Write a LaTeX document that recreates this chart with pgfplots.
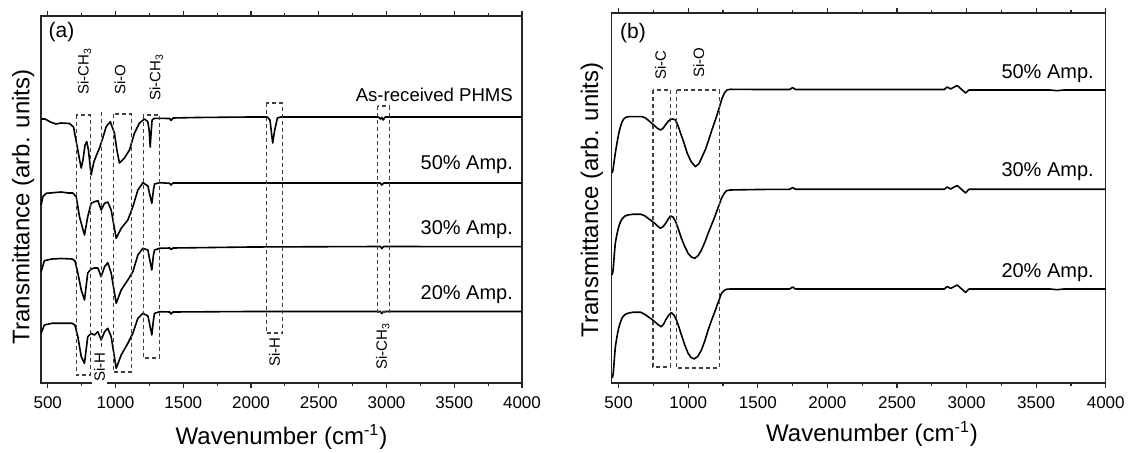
\documentclass[border=0pt]{standalone}
\usepackage{fontspec}
\setmainfont{Liberation Sans}
\usepackage{pgfplots}
\pgfplotsset{compat=1.18}

\tikzset{box/.style={dash pattern=on 2pt off 1.5pt, line width=0.55pt, black!75}}
\pgfplotsset{ftir/.style={
  scale only axis, xmin=450, xmax=4000, ymin=17,
  ytick=\empty, xtick={500,1000,...,4000}, minor x tick num=1,
  tick align=outside, major tick length=2.5pt, minor tick length=1.5pt,
  axis line style={black!85, line width=0.7pt},
  every tick/.style={black!85, line width=0.6pt},
  tick label style={font=\fontsize{8.5}{10}\selectfont},
  xticklabel style={yshift=-1pt},
  /pgf/number format/assume math mode=true,
  /pgf/number format/1000 sep={},
  label style={font=\fontsize{12}{14}\selectfont},
  xlabel={Wavenumber (cm\textsuperscript{-1})},
  ylabel={Transmittance (arb. units)},
  clip=false,
  cycle list={{black}},
  every axis plot/.append style={line width=0.8pt, line join=round, no marks}}}

\begin{document}
\begin{tikzpicture}
\useasboundingbox (0,0) rectangle (564.5pt,-226.5pt);

% ---- (a) ----
\begin{axis}[ftir, at={(20.5pt,-191.5pt)}, anchor=south west,
  width=240.5pt, height=183.5pt, ymax=384,
  xlabel style={at={(axis description cs:0.5,-0.147)}, anchor=center},
  ylabel style={at={(axis description cs:-0.037,0.48)}, anchor=center}]
% as-received PHMS
\addplot coordinates {
 (451,281) (480,281) (520,278) (560,276) (600,277) (660,276.5) (690,273)
 (715,255) (735,240) (747,232) (760,240) (775,255) (788,258.3) (800,250)
 (820,225) (840,238) (860,245) (882,252) (906,262) (931,273.3) (961,278.3)
 (992,267) (1010,250) (1029,237) (1066,242) (1103,250) (1140,267) (1177,277)
 (1214,281) (1238,278.3) (1248,270) (1256,253) (1264,270) (1270,280) (1288,281.7)
 (1400,281.5) (1410,279.5) (1425,282) (1600,282.5) (2000,283) (2120,283)
 (2140,280) (2160,257) (2175,270) (2195,282) (2220,283) (2500,283) (2940,283)
 (2955,281) (2965,282.5) (2975,280) (2990,283) (4000,283)};
% 50%
\addplot coordinates {
 (451,195) (464,203.3) (488,206.7) (540,207.3) (600,208) (650,207) (684,207)
 (710,203.3) (734,183.3) (771,165) (795,183.3) (820,196.7) (845,198.3)
 (870,199.3) (894,190) (919,196.7) (943,198) (968,190) (1005,161.7)
 (1042,171.7) (1091,180) (1128,193.3) (1165,210) (1202,217.3) (1239,214)
 (1250,207) (1268,196.7) (1280,210) (1288,216) (1325,217.3) (1399,216.7)
 (1410,215) (1425,217) (2000,217) (2955,217) (2965,215) (2980,217) (4000,217)};
% 30%
\addplot coordinates {
 (451,128.3) (475,139.3) (530,141) (600,141.5) (680,141) (700,139.3)
 (722,127) (747,110) (771,100) (795,127) (820,131) (845,132) (870,132)
 (894,123.3) (919,133.3) (943,137.3) (968,127) (1005,96.7) (1042,110)
 (1091,120) (1128,128.3) (1165,145) (1202,151.7) (1239,150) (1250,142)
 (1268,130) (1280,145) (1288,150) (1325,151.7) (1400,152) (1410,150.5)
 (1425,152) (2000,153) (2955,153.5) (2965,151.5) (2980,153.5) (4000,153.3)};
% 20%
\addplot coordinates {
 (451,67) (475,75) (530,76.7) (680,76.7) (700,75) (722,63.3) (747,43.3)
 (771,36.7) (795,63.3) (820,66.7) (845,65) (870,68.3) (894,60) (919,68.3)
 (943,71.7) (968,63.3) (1005,31.7) (1042,45) (1091,56.7) (1128,66.7)
 (1165,81.7) (1202,86.7) (1239,84) (1250,77) (1268,65) (1280,80) (1288,86.7)
 (1325,88.3) (1400,88) (1410,86) (1425,88) (2000,88.5) (2955,88.5)
 (2965,86.5) (2980,88.5) (4000,88.5)};

\draw[box] (axis cs:710,285) rectangle (axis cs:813,25);
\draw[box] (axis cs:894,288) -- (axis cs:894,50);
\draw[box] (axis cs:985,286) rectangle (axis cs:1116,28);
\draw[box] (axis cs:1205,285) rectangle (axis cs:1325,42);
\draw[box] (axis cs:2112,297) rectangle (axis cs:2234,67);
\draw[box] (axis cs:2935,294) rectangle (axis cs:3022,88);

\begin{scope}[every node/.style={font=\fontsize{7.5}{9}\selectfont, inner sep=1pt}]
\node[rotate=90, anchor=west] at (axis cs:771,303) {Si-CH\textsubscript{3}};
\node[rotate=90, anchor=west] at (axis cs:1034,303) {Si-O};
\node[rotate=90, anchor=west] at (axis cs:1300,297) {Si-CH\textsubscript{3}};
\node[rotate=90, fill=white] at (axis cs:882,33) {Si-H};
\node[rotate=90, fill=white] at (axis cs:2173,48) {Si-H};
\node[rotate=90, fill=white] at (axis cs:2972,54) {Si-CH\textsubscript{3}};
\end{scope}
\node[anchor=east, font=\fontsize{9.3}{11}\selectfont] at (axis cs:3985,305) {As-received PHMS};
\node[anchor=east, font=\fontsize{10}{12}\selectfont] at (axis cs:3985,235) {50\% Amp.};
\node[anchor=east, font=\fontsize{10}{12}\selectfont] at (axis cs:3985,170) {30\% Amp.};
\node[anchor=east, font=\fontsize{10}{12}\selectfont] at (axis cs:3985,105) {20\% Amp.};
\node[anchor=west, font=\fontsize{10.5}{12}\selectfont] at (axis cs:455,368) {(a)};
\end{axis}

% ---- (b) ----
\begin{axis}[ftir, at={(305.85pt,-191.5pt)}, anchor=south west,
  width=247pt, height=185pt, ymax=387,
  xlabel style={at={(axis description cs:0.527,-0.138)}, anchor=center},
  ylabel style={at={(axis description cs:-0.040,0.495)}, anchor=center}]
% 50%
\addplot coordinates {
 (452,227) (458,229) (462,233) (475,246) (488,257) (500,266) (512,273)
 (524,278) (536,281) (554,282.8) (572,283.3) (606,283.3) (668,283.3)
 (690,282.2) (704,280.7) (728,278) (752,275) (776,272) (800,270) (818,271.5)
 (836,275) (855,278.5) (872,280.7) (890,281) (908,280) (926,274.5) (944,267)
 (970,257) (992,247) (1020,238.5) (1051,233.3) (1078,236.5) (1100,243.3)
 (1125,251) (1147,260) (1170,270) (1195,280) (1220,291) (1243,301.7)
 (1262,307.5) (1279,310) (1303,310.7) (1500,310.5) (1730,310.5) (1750,312.5)
 (1770,310.5) (2500,310.5) (2840,310.5) (2861,313) (2885,311) (2933,314.5)
 (2993,307) (3017,310) (3600,310) (3650,309.3) (3700,310) (4000,310)};
% 30%
\addplot coordinates {
 (452,125) (458,128) (462,133) (469,146) (476,157) (488,166) (500,173)
 (512,178) (524,181) (544,183.8) (565,185) (600,185.7) (660,185.7)
 (690,184) (711,181.7) (735,179.3) (759,176.7) (780,174) (800,171.7)
 (820,173.5) (838,176.7) (856,181) (872,184) (890,183) (910,178.3)
 (930,170.5) (951,161.7) (975,153.5) (999,146.7) (1022,143) (1047,141.7)
 (1072,144.5) (1095,150) (1120,158) (1143,166.7) (1167,175) (1191,183.3)
 (1215,192.5) (1239,201.7) (1258,206.5) (1275,209.3) (1300,210) (1500,210.5)
 (1730,210.7) (1750,212.5) (1770,210.7) (2500,210.7) (2840,210.7) (2861,213)
 (2885,211) (2933,214.5) (2993,207) (3017,210.7) (4000,210.7)};
% 20%
\addplot coordinates {
 (452,22) (458,24) (462,28) (469,41) (476,53) (488,63.5) (500,72) (512,77.5)
 (524,82) (544,85.3) (565,86.7) (600,87.7) (660,87.7) (690,85.5) (711,83.3)
 (735,81) (759,78.3) (782,75.5) (805,73.3) (822,75.5) (838,80) (858,84.5)
 (879,87.3) (897,85) (915,80) (933,73) (951,65) (975,55) (999,46.7)
 (1020,42.5) (1042,41) (1068,43.5) (1095,50) (1120,59.5) (1143,70)
 (1167,79.5) (1191,88.3) (1215,97.5) (1239,106.7) (1258,109.5) (1275,110.7)
 (1300,111) (1500,111) (1730,111) (1750,113) (1770,111) (2500,111)
 (2840,111) (2861,113.5) (2885,111.5) (2933,115) (2993,107.5) (3017,111)
 (3600,111) (3650,110.3) (3700,111) (4000,111)};

\draw[box] (axis cs:747,310) rectangle (axis cs:872,33);
\draw[box] (axis cs:915,310) rectangle (axis cs:1224,32);
\begin{scope}[every node/.style={font=\fontsize{7.5}{9}\selectfont, inner sep=1pt}]
\node[rotate=90, anchor=west] at (axis cs:800,318) {Si-C};
\node[rotate=90, anchor=west] at (axis cs:1075,320) {Si-O};
\end{scope}
\node[anchor=east, font=\fontsize{10}{12}\selectfont] at (axis cs:3965,326) {50\% Amp.};
\node[anchor=east, font=\fontsize{10}{12}\selectfont] at (axis cs:3965,228) {30\% Amp.};
\node[anchor=east, font=\fontsize{10}{12}\selectfont] at (axis cs:3965,127) {20\% Amp.};
\node[anchor=west, font=\fontsize{10.5}{12}\selectfont] at (axis cs:460,367) {(b)};
\end{axis}
\end{tikzpicture}
\end{document}
